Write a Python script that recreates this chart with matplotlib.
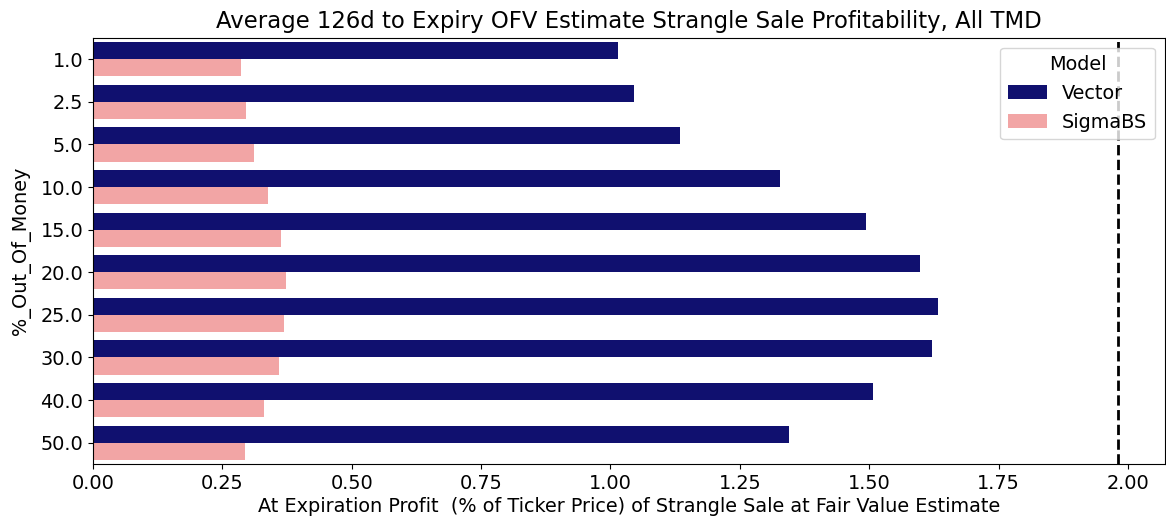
import numpy as np
import matplotlib
matplotlib.use("Agg")
import matplotlib.pyplot as plt

# Average at-expiration profit by % out of the money, per model
otm_pct = ["1.0", "2.5", "5.0", "10.0", "15.0", "20.0", "25.0", "30.0", "40.0", "50.0"]
vector = [1.015, 1.045, 1.134, 1.327, 1.494, 1.598, 1.633, 1.621, 1.507, 1.345]
sigma_bs = [0.286, 0.296, 0.311, 0.338, 0.363, 0.373, 0.369, 0.359, 0.330, 0.294]
fair_value_line = 1.981

plt.rcParams.update({
    "font.family": "DejaVu Sans",
    "font.size": 13.9,
})

fig = plt.figure(figsize=(11.66, 5.26), dpi=100)
ax = fig.add_axes([0.0798, 0.1179, 0.919, 0.8099])

y = np.arange(len(otm_pct))
h = 0.4
ax.barh(y - h / 2, vector, height=h, color="#10106f", label="Vector")
ax.barh(y + h / 2, sigma_bs, height=h, color="#f2a5a5", label="SigmaBS")
ax.axvline(fair_value_line, color="black", linestyle="--", linewidth=2)

ax.set_yticks(y)
ax.set_yticklabels(otm_pct)
ax.set_ylim(len(otm_pct) - 0.5, -0.5)
ax.set_xlim(0, 2.071)
ax.set_xticks(np.arange(0, 2.01, 0.25))
ax.set_xticklabels([f"{v:.2f}" for v in np.arange(0, 2.01, 0.25)])

ax.set_title("Average 126d to Expiry OFV Estimate Strangle Sale Profitability, All TMD",
             fontsize=16.4, pad=7)
ax.set_xlabel("At Expiration Profit  (% of Ticker Price) of Strangle Sale at Fair Value Estimate",
              labelpad=3)
ax.set_ylabel("%_Out_Of_Money", labelpad=7)
ax.legend(title="Model", loc="upper right", fontsize=13.9, title_fontsize=13.9)

fig.savefig("out.png", dpi=100)
